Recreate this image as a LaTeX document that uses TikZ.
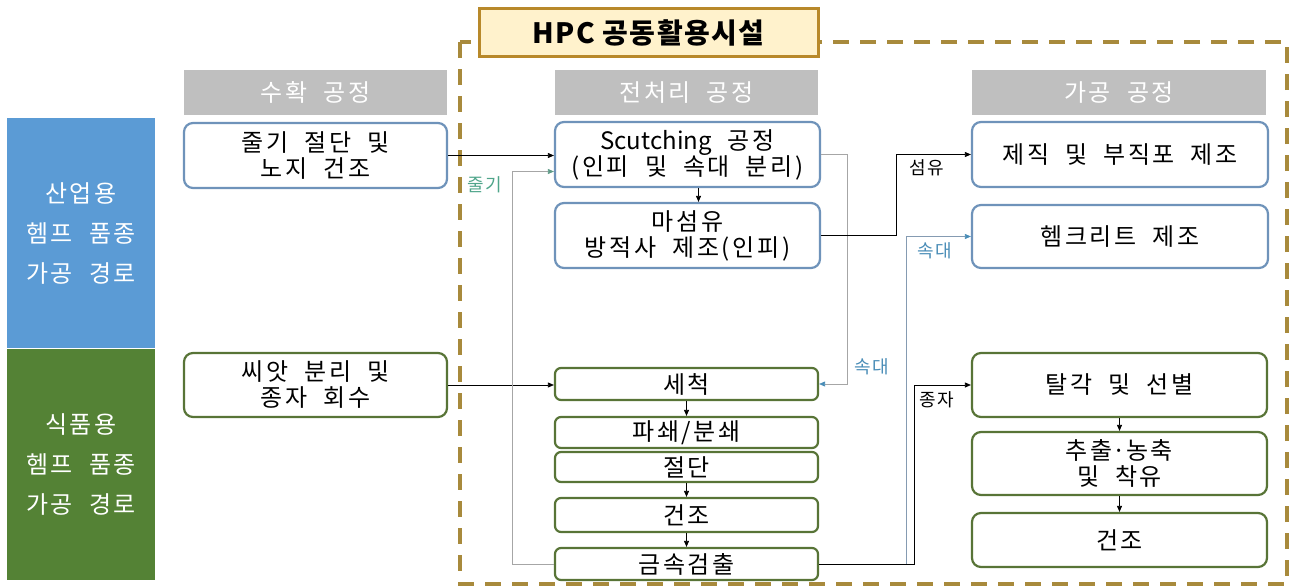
\documentclass[tikz,border=0pt]{standalone}
\usepackage{fontspec}
\setmainfont{Noto Sans CJK KR}
\newfontfamily\krwide[LetterSpace=11,WordSpace=2]{Noto Sans CJK KR}
\newfontfamily\krplain[WordSpace=2]{Noto Sans CJK KR}
\usetikzlibrary{arrows.meta,positioning}
\definecolor{boxblue}{HTML}{6F93BA}
\definecolor{boxgreen}{HTML}{587437}
\definecolor{barblue}{HTML}{5B9BD5}
\definecolor{bargreen}{HTML}{548235}
\definecolor{headgray}{HTML}{BFBFBF}
\definecolor{hpcgold}{HTML}{A88A3C}
\definecolor{hpcfill}{HTML}{FFF2CC}
\definecolor{hpcedge}{HTML}{B8892A}
\definecolor{linegray}{HTML}{A6A6A6}
\definecolor{coreblue}{HTML}{4A8DB7}
\definecolor{stemgreen}{HTML}{4FA58A}
\tikzset{
  pbox/.style={rounded corners=9pt,line width=2.2pt,fill=white,align=center,inner sep=2pt,font=\krwide\fontsize{24}{26}\selectfont},
  bluebox/.style={pbox,draw=boxblue},
  greenbox/.style={pbox,draw=boxgreen},
  stagehead/.style={fill=headgray,text=white,minimum height=45pt,font=\krwide\fontsize{24}{26}\selectfont},
  sidebar/.style={minimum width=148pt,text=white,align=center,font=\krwide\fontsize{24}{40}\selectfont},
  flow/.style={line width=0.8pt,-{Triangle[length=6pt,width=5pt]}},
  lbl/.style={inner sep=1pt,font=\krwide\fontsize{18}{20}\selectfont},
}
\begin{document}
\begin{tikzpicture}[x=1pt,y=-1pt]
\useasboundingbox (0,0) rectangle (1292,586);
% left bars
\node[sidebar,fill=barblue,minimum height=230pt] (indbar) at (81,233) {산업용\\헴프 품종\\가공 경로};
\node[sidebar,fill=bargreen,minimum height=231pt] (foodbar) at (81,464.5) {식품용\\헴프 품종\\가공 경로};
% HPC frame
\draw[hpcgold,line width=4pt,dash pattern=on 16pt off 11pt] (460,42) rectangle (1287,584);
\node[fill=hpcfill,draw=hpcedge,line width=3pt,minimum width=339pt,minimum height=48pt,font=\fontsize{28}{30}\selectfont\bfseries\addfontfeatures{LetterSpace=5}] (hpc) at (648.5,33) {HPC 공동활용시설};
% stage headers
\node[stagehead,minimum width=263pt] (harvhead) at (315.5,92.5) {수확 공정};
\node[stagehead,minimum width=263pt] (prehead) at (686.5,92.5) {전처리 공정};
\node[stagehead,minimum width=294pt] (prochead) at (1119,92.5) {가공 공정};
% harvest
\node[bluebox,minimum width=263pt,minimum height=65pt] (stemcut) at (315.5,155.5) {줄기 절단 및\\노지 건조};
\node[greenbox,minimum width=263pt,minimum height=64pt] (seedsep) at (315.5,385) {씨앗 분리 및\\종자 회수};
% pre-treatment
\node[bluebox,minimum width=265pt,minimum height=65pt] (scutch) at (687.5,154.5) {{\krplain Scutching} 공정\\(인피 및 속대 분리)};
\node[bluebox,minimum width=265pt,minimum height=65pt] (spin) at (687.5,235.5) {마섬유\\방적사 제조(인피)};
\node[greenbox,rounded corners=6pt,minimum width=263pt,minimum height=32pt] (wash) at (686.5,384) {세척};
\node[greenbox,rounded corners=6pt,minimum width=263pt,minimum height=31pt] (crush) at (686.5,432.5) {파쇄/분쇄};
\node[greenbox,rounded corners=6pt,minimum width=263pt,minimum height=30pt] (cut) at (686.5,467) {절단};
\node[greenbox,rounded corners=6pt,minimum width=263pt,minimum height=34pt] (dryA) at (686.5,515) {건조};
\node[greenbox,rounded corners=6pt,minimum width=263pt,minimum height=32pt] (metal) at (686.5,564) {금속검출};
% processing
\node[bluebox,minimum width=296pt,minimum height=65pt] (weave) at (1120,154.5) {제직 및 부직포 제조};
\node[bluebox,minimum width=296pt,minimum height=63pt] (crete) at (1120,236.5) {헴크리트 제조};
\node[greenbox,minimum width=295pt,minimum height=64pt] (dehull) at (1119.5,385) {탈각 및 선별};
\node[greenbox,minimum width=295pt,minimum height=63pt] (extract) at (1119.5,463.5) {추출{\krplain·}농축\\및 착유};
\node[greenbox,minimum width=295pt,minimum height=54pt] (dryB) at (1119.5,540) {건조};
% connectors
\draw[flow] (stemcut.east) -- (stemcut.east -| scutch.west);
\draw[flow] (seedsep.east) -- (seedsep.east -| wash.west);
\draw[flow] ([xshift=11pt]scutch.south) -- ([xshift=11pt]spin.north);
\draw[flow] (wash) -- (crush);
\draw[flow] (cut) -- (dryA);
\draw[flow] (dryA) -- (metal);
\draw[flow] (dehull) -- (extract);
\draw[flow] (extract) -- (dryB);
\draw[flow,linegray,-{Triangle[length=6pt,width=5pt,color=stemgreen!70!gray]}] (metal.west) -- ++(-42,0) |- ([yshift=-17pt]scutch.west);
\draw[flow,linegray,-{Triangle[length=6pt,width=5pt,color=coreblue]}] (scutch.east) -- ++(26,0) |- (wash.east);
\draw[flow] (spin.east) -- ++(75,0) |- (weave.west);
\draw[flow,boxblue!60!linegray,-{Triangle[length=6pt,width=5pt,color=coreblue]}] (metal.east) -- ++(87,0) |- (crete.west);
\draw[flow] (metal.east) -- ++(95,0) |- (dehull.west);
% labels
\node[lbl,text=stemgreen] (stemlbl) at (485,185) {줄기};
\node[lbl,text=coreblue] (corelblA) at (872,367) {속대};
\node[lbl] (fiberlbl) at (927,168) {섬유};
\node[lbl,text=coreblue] (corelblB) at (935,251) {속대};
\node[lbl] (seedlbl) at (937,400) {종자};
\end{tikzpicture}
\end{document}
